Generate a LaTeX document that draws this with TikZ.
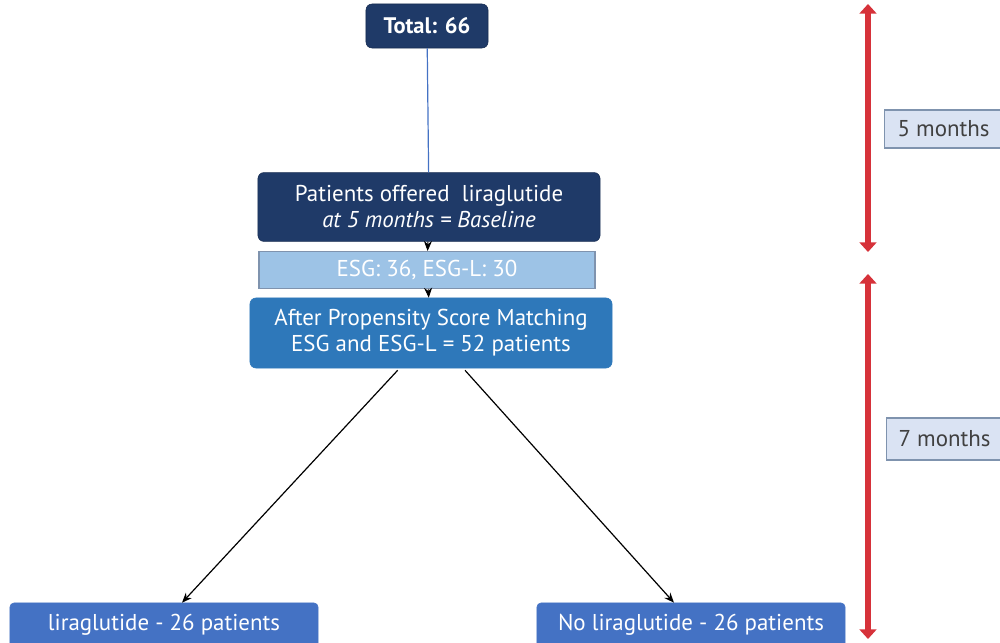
\documentclass[tikz,border=0pt]{standalone}
\usepackage{fontspec}
\setmainfont{PT Sans}
\usetikzlibrary{arrows.meta}
\definecolor{navy}{HTML}{1F3A68}
\definecolor{paleblue}{HTML}{9DC3E6}
\definecolor{midblue}{HTML}{2E78BA}
\definecolor{boxblue}{HTML}{4472C4}
\definecolor{tagblue}{HTML}{DAE3F3}
\definecolor{tagline}{HTML}{7F93AE}
\definecolor{armred}{HTML}{D6323A}
\tikzset{
        every node/.style={font=\fontsize{16.3}{18.5}\selectfont},
        darkbox/.style={fill=navy, draw=navy!80!black, rounded corners=1.5mm, text=white, align=center, inner sep=0pt},
        lightbox/.style={fill=paleblue, draw=tagline, line width=0.3mm, text=white, align=center, inner sep=0pt},
        psmbox/.style={fill=midblue, draw=midblue, rounded corners=1.5mm, text=white, align=center, inner sep=0pt},
        armbox/.style={fill=boxblue, draw=boxblue, rounded corners=1mm, text=white, align=center, inner sep=0pt},
        tag/.style={fill=tagblue, draw=tagline, line width=0.3mm, text=black!75, inner sep=0pt},
        link/.style={draw=boxblue, line width=0.3mm},
        flow/.style={draw=black, line width=0.3mm, -{Stealth[length=2.5mm,width=2mm]}},
        span/.style={draw=armred, line width=1.6mm, {Triangle[length=2.4mm,width=4.2mm]}-{Triangle[length=2.4mm,width=4.2mm]}}
          }

\begin{document}
\begin{tikzpicture}[x=0.025cm, y=-0.025cm]
        \useasboundingbox (0,0) rectangle (1000,643);
        \node[darkbox, minimum width=3.05cm, minimum height=1.1cm, font=\fontsize{16}{18}\selectfont\bfseries] (total) at (427,26) {Total: 66};
        \node[darkbox, minimum width=8.55cm, minimum height=1.72cm] (offered) at (429,207) {Patients offered~~liraglutide\\ \textit{at 5 months = Baseline}};
        \node[lightbox, minimum width=8.4cm, minimum height=0.92cm] (esg) at (427,270) {ESG: 36, ESG-L: 30};
        \node[psmbox, minimum width=9.05cm, minimum height=1.75cm] (psm) at (431,333) {After Propensity Score Matching\\ ESG and ESG-L = 52 patients};
        \node[armbox, minimum width=7.7cm, minimum height=1.1cm] (lira) at (164,625) {liraglutide - 26 patients};
        \node[armbox, minimum width=7.7cm, minimum height=1.1cm] (nolira) at (691,625) {No liraglutide - 26 patients};
        \node[tag, minimum width=2.95cm, minimum height=0.95cm, anchor=west] (five) at (884,129) {5 months};
        \node[tag, minimum width=2.9cm, minimum height=1.05cm, anchor=west] (seven) at (886,439) {7 months};
        \coordinate (fivetop) at (868,4);
        \coordinate (fivebot) at (868,252);
        \coordinate (seventop) at (868,274);
        \coordinate (sevenbot) at (868,639);
        \draw[link] (total) -- (offered);
        \draw[flow, line width=0.2mm] (offered) -- (esg);
        \draw[flow, line width=0.2mm] (esg) -- (psm);
        \draw[flow] (psm.south west) ++(148,2) coordinate (psmleft) -- (lira.north -| 182,0);
        \draw[flow] (psm.south) ++(34,2) coordinate (psmright) -- (nolira.north -| 674,0);
        \draw[span] (fivetop) -- (fivebot);
        \draw[span] (seventop) -- (sevenbot);
      \end{tikzpicture}
\end{document}
